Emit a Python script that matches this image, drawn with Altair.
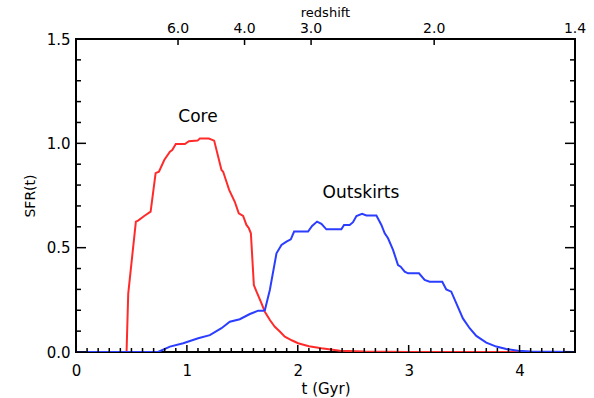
import altair as alt
import pandas as pd

# ---- data ----
core_t = [0, 0.456, 0.471, 0.54, 0.56, 0.615, 0.673, 0.718, 0.748, 0.796, 0.847, 0.868, 0.90, 0.982,
          1.018, 1.096, 1.117, 1.198, 1.246, 1.312, 1.327, 1.357, 1.381, 1.432, 1.468, 1.507, 1.537,
          1.559, 1.577, 1.604, 1.628, 1.673, 1.703, 1.75, 1.793, 1.838, 1.883, 1.95, 2.003, 2.1,
          2.213, 2.38, 2.6, 3.0, 4.5]
core_sfr = [0, 0, 0.28, 0.625, 0.63, 0.652, 0.673, 0.857, 0.864, 0.92, 0.96, 0.968, 0.997, 0.997,
            1.01, 1.013, 1.023, 1.023, 1.013, 0.872, 0.864, 0.816, 0.777, 0.72, 0.665, 0.652, 0.609,
            0.593, 0.569, 0.321, 0.289, 0.233, 0.193, 0.152, 0.121, 0.098, 0.073, 0.055, 0.042, 0.028,
            0.018, 0.006, 0.002, 0.0, 0.0]

out_t = [0, 0.74, 0.847, 0.967, 1.102, 1.207, 1.312, 1.387, 1.477, 1.568, 1.643, 1.688, 1.703, 1.748,
         1.808, 1.853, 1.898, 1.937, 1.967, 2.093, 2.129, 2.174, 2.213, 2.258, 2.393, 2.417, 2.468,
         2.498, 2.529, 2.58, 2.619, 2.709, 2.754, 2.784, 2.814, 2.859, 2.904, 2.928, 2.964, 2.994,
         3.093, 3.144, 3.189, 3.303, 3.339, 3.384, 3.43, 3.489, 3.55, 3.61, 3.70, 3.79, 3.88, 3.985,
         4.1, 4.5]
out_sfr = [0, 0, 0.026, 0.042, 0.066, 0.081, 0.114, 0.145, 0.157, 0.182, 0.198, 0.198, 0.2, 0.297,
           0.473, 0.513, 0.529, 0.54, 0.577, 0.577, 0.604, 0.625, 0.614, 0.588, 0.588, 0.609, 0.609,
           0.622, 0.652, 0.662, 0.654, 0.654, 0.609, 0.569, 0.545, 0.489, 0.417, 0.409, 0.385, 0.377,
           0.377, 0.345, 0.337, 0.337, 0.3, 0.289, 0.233, 0.161, 0.114, 0.077, 0.045, 0.026, 0.014,
           0.006, 0.002, 0]

series_names = ["Core", "Outskirts"]
series_colors = ["#ff2b2b", "#2b3dff"]
label_t = [1.10, 2.57]
label_sfr = [1.127, 0.764]

redshift_labels = ["6.0", "4.0", "3.0", "2.0", "1.4"]
redshift_t = [0.92, 1.52, 2.12, 3.23, 4.5]

x_major = [0, 1, 2, 3, 4]
x_minor = [i / 10 for i in range(46) if i % 10 != 0]
y_major = [0, 0.5, 1.0, 1.5]
y_minor = [i / 10 for i in range(16) if i % 5 != 0]

W, H = 499, 313
FONT = "DejaVu Sans"

lines_df = pd.DataFrame(
    {"t": core_t + out_t,
     "sfr": core_sfr + out_sfr,
     "series": ["Core"] * len(core_t) + ["Outskirts"] * len(out_t)}
)
labels_df = pd.DataFrame({"t": label_t, "sfr": label_sfr, "series": series_names})
z_df = pd.DataFrame({"t": redshift_t, "z": redshift_labels})

xs = alt.Scale(domain=[0, 4.5], nice=False, zero=False)
ys = alt.Scale(domain=[0, 1.5], nice=False, zero=False)
cs = alt.Scale(domain=series_names, range=series_colors)

x_axis = alt.Axis(title="t (Gyr)", values=x_major, format="d", ticks=False, domain=False,
                  grid=False, labelPadding=11, labelFlush=False, titleX=W / 2, titleY=36,
                  titleBaseline="middle", titleFontSize=15)
y_axis = alt.Axis(title="SFR(t)", values=y_major, format=".1f", ticks=False, domain=False,
                  grid=False, labelPadding=6, labelFlush=False, titleX=-46, titleY=H / 2,
                  titleBaseline="middle", titleAngle=-90, titleFontSize=14)


def X():
    return alt.X("t:Q", scale=xs, axis=x_axis, title="t (Gyr)")


def Y():
    return alt.Y("sfr:Q", scale=ys, axis=y_axis, title="SFR(t)")


lines = alt.Chart(lines_df).mark_line(strokeWidth=2, clip=True).encode(
    x=X(), y=Y(),
    color=alt.Color("series:N", scale=cs, legend=None),
)

labels = alt.Chart(labels_df).mark_text(font=FONT, fontSize=17, baseline="middle", align="center",
                                         color="black").encode(
    x=X(), y=Y(), text="series:N",
)


def xticks(vals, y0, y1):
    return alt.Chart(pd.DataFrame({"t": vals})).mark_rule(color="black", strokeWidth=1.5).encode(
        x=X(), y=alt.value(y0), y2=alt.value(y1))


def yticks(vals, x0, x1):
    return alt.Chart(pd.DataFrame({"sfr": vals})).mark_rule(color="black", strokeWidth=1.5).encode(
        y=Y(), x=alt.value(x0), x2=alt.value(x1))


tick_layers = [
    xticks(x_major, H, H - 7),
    xticks(x_minor, H, H - 4),
    xticks(redshift_t, 0, 6),
    yticks(y_major, 0, 10),
    yticks(y_minor, 0, 5),
    yticks(y_major, W, W - 10),
    yticks(y_minor, W, W - 5),
]

ztext = alt.Chart(z_df).mark_text(font=FONT, fontSize=14, baseline="alphabetic", align="center",
                                  color="black").encode(
    x=X(), y=alt.value(-6), text="z:N",
)

ztitle = alt.Chart(pd.DataFrame({"t": [2.25]})).mark_text(
    font=FONT, fontSize=13, baseline="alphabetic", align="center", color="black", text="redshift"
).encode(x=X(), y=alt.value(-22))

chart = alt.layer(lines, labels, ztext, ztitle, *tick_layers).properties(
    width=W, height=H,
    autosize=alt.AutoSizeParams(type="none"),
    padding={"left": 76, "top": 39, "right": 19, "bottom": 46},
    background="white",
).configure_view(stroke="black", strokeWidth=2).configure_axis(
    labelFont=FONT, labelFontSize=15, labelColor="black",
    titleFont=FONT, titleColor="black", titleFontWeight="normal",
)

chart.save("out.html", embed_options={"renderer": "svg", "actions": False})
